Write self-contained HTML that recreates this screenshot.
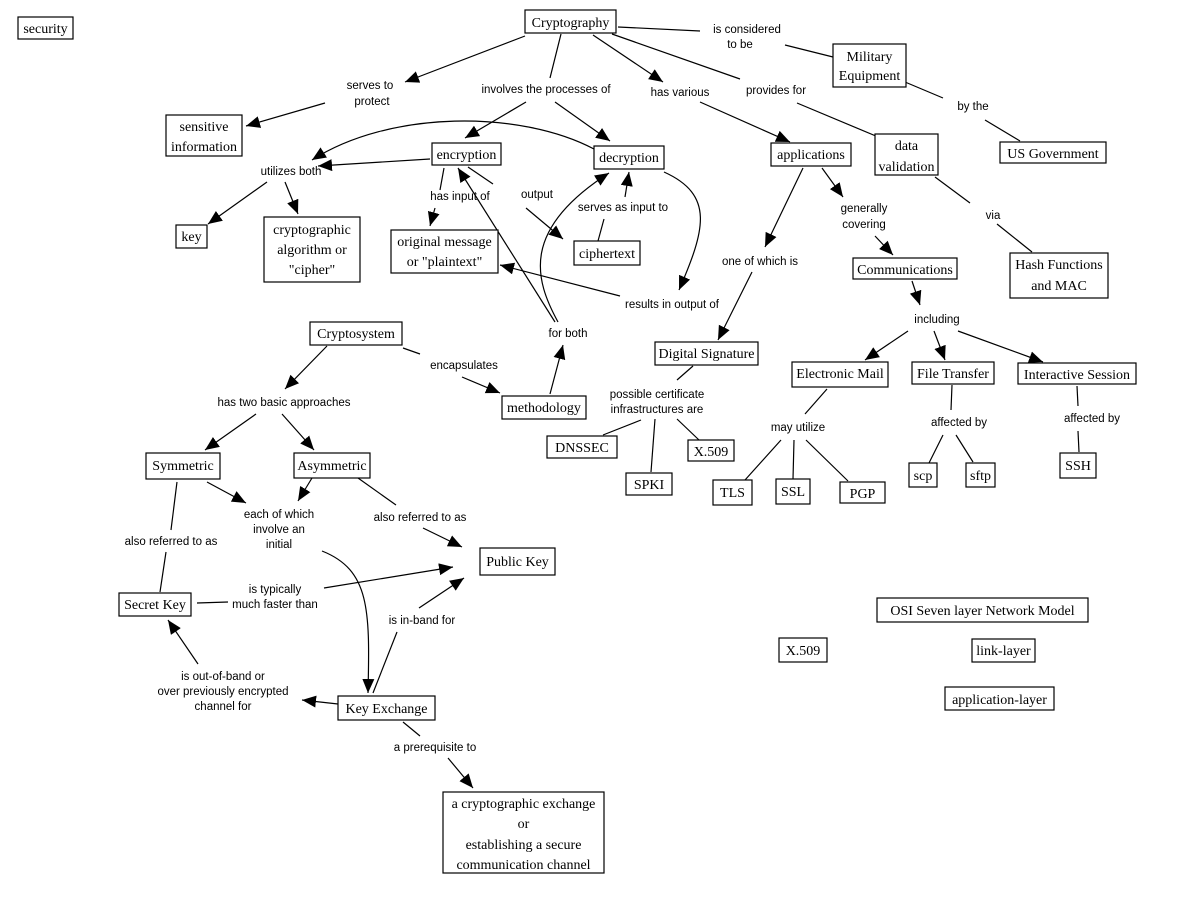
<!DOCTYPE html>
<html><head><meta charset="utf-8"><style>
html,body{margin:0;padding:0;background:#fff;}
svg{display:block;}
.n rect{fill:#fff;stroke:#000;stroke-width:1.2;}
.n text{font-family:"Liberation Serif",serif;font-size:14px;fill:#000;text-anchor:middle;}
.l{font-family:"Liberation Sans",sans-serif;font-size:11.5px;fill:#000;text-anchor:middle;}
line,path{stroke:#000;stroke-width:1.2;fill:none;}
</style></head><body>
<svg width="1196" height="914" viewBox="0 0 1196 914" xmlns="http://www.w3.org/2000/svg">
<defs><marker id="a" markerUnits="userSpaceOnUse" markerWidth="16" markerHeight="14" refX="14" refY="6" orient="auto"><path d="M0,0 L14,6 L0,12 z" style="fill:#000;stroke:none"/></marker></defs>

<g id="edges">
<line x1="525" y1="36" x2="405" y2="82" marker-end="url(#a)"/>
<line x1="325" y1="103" x2="246" y2="126" marker-end="url(#a)"/>
<line x1="561" y1="34" x2="550" y2="78"/>
<line x1="526" y1="102" x2="465" y2="138" marker-end="url(#a)"/>
<line x1="555" y1="102" x2="610" y2="141" marker-end="url(#a)"/>
<line x1="593" y1="35" x2="663" y2="82" marker-end="url(#a)"/>
<line x1="612" y1="34" x2="740" y2="79"/>
<line x1="618" y1="27" x2="700" y2="31"/>
<line x1="785" y1="45" x2="833" y2="57"/>
<line x1="700" y1="102" x2="790" y2="142" marker-end="url(#a)"/>
<line x1="797" y1="103" x2="883" y2="139"/>
<line x1="905" y1="82" x2="943" y2="98"/>
<line x1="985" y1="120" x2="1020" y2="141"/>
<line x1="935" y1="177" x2="970" y2="203"/>
<line x1="997" y1="224" x2="1032" y2="252"/>
<path d="M594,149 C520,110 390,110 312,160" marker-end="url(#a)"/>
<line x1="430" y1="159" x2="318" y2="166" marker-end="url(#a)"/>
<line x1="267" y1="182" x2="208" y2="224" marker-end="url(#a)"/>
<line x1="285" y1="182" x2="298" y2="214" marker-end="url(#a)"/>
<line x1="444" y1="168" x2="440" y2="190"/>
<line x1="435" y1="208" x2="430" y2="226" marker-end="url(#a)"/>
<line x1="468" y1="167" x2="493" y2="184"/>
<line x1="526" y1="208" x2="563" y2="239" marker-end="url(#a)"/>
<line x1="598" y1="241" x2="604" y2="219"/>
<line x1="625" y1="197" x2="629" y2="172" marker-end="url(#a)"/>
<path d="M664,172 C715,195 705,230 679,290" marker-end="url(#a)"/>
<line x1="620" y1="296" x2="500" y2="265" marker-end="url(#a)"/>
<line x1="555" y1="322" x2="458" y2="168" marker-end="url(#a)"/>
<path d="M558,322 C535,280 520,230 609,173" marker-end="url(#a)"/>
<line x1="550" y1="394" x2="563" y2="345" marker-end="url(#a)"/>
<line x1="403" y1="348" x2="420" y2="354"/>
<line x1="462" y1="377" x2="500" y2="393" marker-end="url(#a)"/>
<line x1="327" y1="346" x2="285" y2="389" marker-end="url(#a)"/>
<line x1="256" y1="414" x2="205" y2="450" marker-end="url(#a)"/>
<line x1="282" y1="414" x2="314" y2="450" marker-end="url(#a)"/>
<line x1="207" y1="482" x2="246" y2="503" marker-end="url(#a)"/>
<line x1="312" y1="478" x2="298" y2="501" marker-end="url(#a)"/>
<line x1="358" y1="478" x2="396" y2="505"/>
<line x1="423" y1="528" x2="462" y2="547" marker-end="url(#a)"/>
<line x1="177" y1="482" x2="171" y2="530"/>
<line x1="166" y1="552" x2="160" y2="592"/>
<line x1="197" y1="603" x2="228" y2="602"/>
<line x1="324" y1="588" x2="453" y2="567" marker-end="url(#a)"/>
<path d="M322,551 C370,570 370,610 368,693" marker-end="url(#a)"/>
<line x1="373" y1="693" x2="397" y2="632"/>
<line x1="419" y1="608" x2="464" y2="578" marker-end="url(#a)"/>
<line x1="338" y1="704" x2="302" y2="700" marker-end="url(#a)"/>
<line x1="198" y1="664" x2="168" y2="620" marker-end="url(#a)"/>
<line x1="403" y1="722" x2="420" y2="736"/>
<line x1="448" y1="758" x2="473" y2="788" marker-end="url(#a)"/>
<line x1="803" y1="168" x2="765" y2="247" marker-end="url(#a)"/>
<line x1="752" y1="272" x2="718" y2="340" marker-end="url(#a)"/>
<line x1="822" y1="168" x2="843" y2="197" marker-end="url(#a)"/>
<line x1="875" y1="236" x2="893" y2="255" marker-end="url(#a)"/>
<line x1="912" y1="281" x2="920" y2="305" marker-end="url(#a)"/>
<line x1="908" y1="331" x2="865" y2="360" marker-end="url(#a)"/>
<line x1="934" y1="331" x2="945" y2="360" marker-end="url(#a)"/>
<line x1="958" y1="331" x2="1043" y2="362" marker-end="url(#a)"/>
<line x1="693" y1="366" x2="677" y2="380"/>
<line x1="641" y1="420" x2="603" y2="435"/>
<line x1="655" y1="419" x2="651" y2="472"/>
<line x1="677" y1="419" x2="699" y2="440"/>
<line x1="827" y1="389" x2="805" y2="414"/>
<line x1="781" y1="440" x2="745" y2="480"/>
<line x1="794" y1="440" x2="793" y2="479"/>
<line x1="806" y1="440" x2="848" y2="481"/>
<line x1="952" y1="385" x2="951" y2="410"/>
<line x1="943" y1="435" x2="929" y2="463"/>
<line x1="956" y1="435" x2="973" y2="462"/>
<line x1="1077" y1="386" x2="1078" y2="406"/>
<line x1="1078" y1="431" x2="1079" y2="452"/>
</g>

<g class="n">
<rect x="18" y="17" width="55" height="22"/><text x="45.5" y="33">security</text>
<rect x="525" y="10" width="91" height="23"/><text x="570.5" y="27">Cryptography</text>
<rect x="833" y="44" width="73" height="43"/><text x="869.5" y="61">Military</text><text x="869.5" y="80">Equipment</text>
<rect x="166" y="115" width="76" height="41"/><text x="204" y="131">sensitive</text><text x="204" y="151">information</text>
<rect x="432" y="143" width="69" height="22"/><text x="466.5" y="159">encryption</text>
<rect x="594" y="146" width="70" height="23"/><text x="629" y="162">decryption</text>
<rect x="771" y="143" width="80" height="23"/><text x="811" y="159">applications</text>
<rect x="875" y="134" width="63" height="41"/><text x="906.5" y="150">data</text><text x="906.5" y="171">validation</text>
<rect x="1000" y="142" width="106" height="21"/><text x="1053" y="158">US Government</text>
<rect x="176" y="225" width="31" height="23"/><text x="191.5" y="241">key</text>
<rect x="264" y="217" width="96" height="65"/><text x="312" y="234">cryptographic</text><text x="312" y="254">algorithm or</text><text x="312" y="274">"cipher"</text>
<rect x="391" y="230" width="107" height="43"/><text x="444.5" y="246">original message</text><text x="444.5" y="266">or "plaintext"</text>
<rect x="574" y="241" width="66" height="24"/><text x="607" y="258">ciphertext</text>
<rect x="1010" y="253" width="98" height="45"/><text x="1059" y="269">Hash Functions</text><text x="1059" y="290">and MAC</text>
<rect x="853" y="258" width="104" height="21"/><text x="905" y="274">Communications</text>
<rect x="310" y="322" width="92" height="23"/><text x="356" y="338">Cryptosystem</text>
<rect x="655" y="342" width="103" height="23"/><text x="706.5" y="358">Digital Signature</text>
<rect x="502" y="396" width="84" height="23"/><text x="544" y="412">methodology</text>
<rect x="792" y="362" width="96" height="25"/><text x="840" y="378">Electronic Mail</text>
<rect x="912" y="362" width="82" height="22"/><text x="953" y="378">File Transfer</text>
<rect x="1018" y="363" width="118" height="21"/><text x="1077" y="379">Interactive Session</text>
<rect x="547" y="436" width="70" height="22"/><text x="582" y="452">DNSSEC</text>
<rect x="688" y="440" width="46" height="21"/><text x="711" y="456">X.509</text>
<rect x="626" y="473" width="46" height="22"/><text x="649" y="489">SPKI</text>
<rect x="146" y="453" width="74" height="26"/><text x="183" y="470">Symmetric</text>
<rect x="294" y="453" width="76" height="25"/><text x="332" y="470">Asymmetric</text>
<rect x="713" y="480" width="39" height="25"/><text x="732.5" y="497">TLS</text>
<rect x="776" y="479" width="34" height="25"/><text x="793" y="496">SSL</text>
<rect x="840" y="482" width="45" height="21"/><text x="862.5" y="498">PGP</text>
<rect x="909" y="463" width="28" height="24"/><text x="923" y="480">scp</text>
<rect x="966" y="463" width="29" height="24"/><text x="980.5" y="480">sftp</text>
<rect x="1060" y="453" width="36" height="25"/><text x="1078" y="470">SSH</text>
<rect x="480" y="548" width="75" height="27"/><text x="517.5" y="566">Public Key</text>
<rect x="119" y="593" width="72" height="23"/><text x="155" y="609">Secret Key</text>
<rect x="877" y="598" width="211" height="24"/><text x="982.5" y="615">OSI Seven layer Network Model</text>
<rect x="779" y="638" width="48" height="24"/><text x="803" y="655">X.509</text>
<rect x="972" y="639" width="63" height="23"/><text x="1003.5" y="655">link-layer</text>
<rect x="945" y="687" width="109" height="23"/><text x="999.5" y="704">application-layer</text>
<rect x="338" y="696" width="97" height="24"/><text x="386.5" y="713">Key Exchange</text>
<rect x="443" y="792" width="161" height="81"/><text x="523.5" y="808">a cryptographic exchange</text><text x="523.5" y="828">or</text><text x="523.5" y="849">establishing a secure</text><text x="523.5" y="869">communication channel</text>
</g>

<g>
<text class="l" x="747" y="33">is considered</text><text class="l" x="740" y="48">to be</text>
<text class="l" x="370" y="89">serves to</text><text class="l" x="372" y="105">protect</text>
<text class="l" x="546" y="93">involves the processes of</text>
<text class="l" x="680" y="96">has various</text>
<text class="l" x="776" y="94">provides for</text>
<text class="l" x="973" y="110">by the</text>
<text class="l" x="291" y="175">utilizes both</text>
<text class="l" x="460" y="200">has input of</text>
<text class="l" x="537" y="198">output</text>
<text class="l" x="623" y="211">serves as input to</text>
<text class="l" x="993" y="219">via</text>
<text class="l" x="864" y="212">generally</text><text class="l" x="864" y="228">covering</text>
<text class="l" x="760" y="265">one of which is</text>
<text class="l" x="672" y="308">results in output of</text>
<text class="l" x="568" y="337">for both</text>
<text class="l" x="937" y="323">including</text>
<text class="l" x="464" y="369">encapsulates</text>
<text class="l" x="284" y="406">has two basic approaches</text>
<text class="l" x="657" y="398">possible certificate</text><text class="l" x="657" y="413">infrastructures are</text>
<text class="l" x="798" y="431">may utilize</text>
<text class="l" x="959" y="426">affected by</text>
<text class="l" x="1092" y="422">affected by</text>
<text class="l" x="279" y="518">each of which</text><text class="l" x="279" y="533">involve an</text><text class="l" x="279" y="548">initial</text>
<text class="l" x="420" y="521">also referred to as</text>
<text class="l" x="171" y="545">also referred to as</text>
<text class="l" x="275" y="593">is typically</text><text class="l" x="275" y="608">much faster than</text>
<text class="l" x="422" y="624">is in-band for</text>
<text class="l" x="223" y="680">is out-of-band  or</text><text class="l" x="223" y="695">over previously encrypted</text><text class="l" x="223" y="710">channel for</text>
<text class="l" x="435" y="751">a prerequisite to</text>
</g>
</svg>
</body></html>
